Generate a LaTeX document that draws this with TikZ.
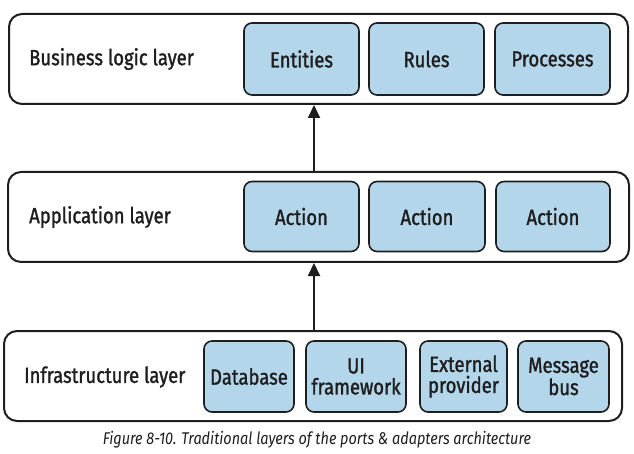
\documentclass[tikz,border=0pt]{standalone}
\usepackage{fontspec}
\setmainfont{Fira Sans}[FakeStretch=0.84,FakeBold=1.3]
\newfontfamily\capfont{Fira Sans}[FakeStretch=0.85]
\usetikzlibrary{arrows.meta}
\definecolor{boxblue}{RGB}{180,214,234}
\definecolor{ink}{RGB}{30,30,30}
\tikzset{
  layer/.style={draw=ink, line width=2pt, rounded corners=13pt, minimum height=90pt, inner sep=0pt, fill=white},
  comp/.style={draw=ink, line width=1.6pt, rounded corners=8pt, fill=boxblue, inner sep=0pt, align=center, text=ink, font=\fontsize{22}{21}\selectfont},
  lbl/.style={anchor=west, inner sep=0pt, text=ink, font=\fontsize{22}{22}\selectfont},
  arr/.style={draw=ink, line width=2pt, -{Triangle[length=13pt,width=12pt]}}
}
\begin{document}
\begin{tikzpicture}[x=1pt,y=-1pt]
\useasboundingbox (0,0) rectangle (634,454);
% layers
\node[layer, minimum width=619pt] (top) at (318.5,59) {};
\node[layer, minimum width=621pt] (mid) at (318.5,217) {};
\node[layer, minimum width=618pt] (bot) at (313,376) {};
% labels
\node[lbl] (ltop) at (29,59) {Business logic layer};
\node[lbl] (lmid) at (29,217) {Application layer};
\node[lbl] (lbot) at (24,377) {Infrastructure layer};
% top components
\node[comp, minimum width=115pt, minimum height=72pt] (ent) at (301.5,59) {Entities};
\node[comp, minimum width=115pt, minimum height=72pt] (rul) at (426.5,59) {Rules};
\node[comp, minimum width=115pt, minimum height=72pt] (pro) at (552.5,59) {Processes};
% middle components
\node[comp, minimum width=115pt, minimum height=70pt] (a1) at (301.5,216.5) {Action};
\node[comp, minimum width=116pt, minimum height=70pt] (a2) at (427,216.5) {Action};
\node[comp, minimum width=114pt, minimum height=70pt] (a3) at (553,216.5) {Action};
% bottom components
\node[comp, minimum width=90pt, minimum height=71pt] (db) at (249,376.5) {Database};
\node[comp, minimum width=100pt, minimum height=71pt] (ui) at (356,376.5) {UI\\framework};
\node[comp, minimum width=87pt, minimum height=71pt] (ext) at (463.5,376.5) {External\\provider};
\node[comp, minimum width=91pt, minimum height=71pt] (msg) at (563.5,376.5) {Message\\bus};
% arrows
\draw[arr] ([xshift=-4.5pt]mid.north) -- ([xshift=-4.5pt]top.south);
\draw[arr] ([xshift=1pt]bot.north) -- ([xshift=-4.5pt]mid.south);
% caption
\node[inner sep=0pt, text=ink, font=\capfont\itshape\fontsize{17}{17}\selectfont] (cap) at (317,440) {Figure 8-10. Traditional layers of the ports \& adapters architecture};
\end{tikzpicture}
\end{document}
